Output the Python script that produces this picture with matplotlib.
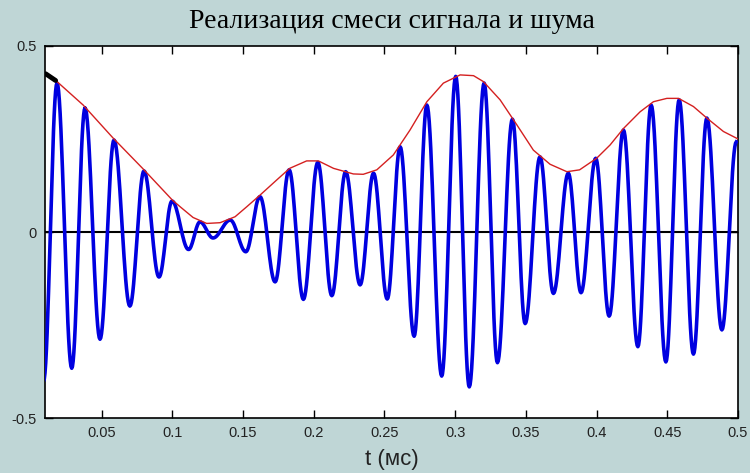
import numpy as np
import matplotlib.pyplot as plt

# ----------------------------
# extrema of the blue signal (t in ms, value)

peak_t = [0.0185, 0.0383, 0.0588, 0.0800, 0.0998, 0.1196, 0.1410, 0.1620,
          0.1826, 0.2029, 0.2226, 0.2423, 0.2611, 0.2800, 0.3004, 0.3205,
          0.3405, 0.3600, 0.3800, 0.3994, 0.4190, 0.4386, 0.4584, 0.4780,
          0.4988]
peak_v = [0.400, 0.333, 0.247, 0.164, 0.083, 0.027, 0.032, 0.095,
          0.167, 0.187, 0.162, 0.158, 0.229, 0.341, 0.418, 0.400,
          0.303, 0.202, 0.158, 0.198, 0.274, 0.341, 0.355, 0.306,
          0.242]

trough_t = [0.0090, 0.0289, 0.0489, 0.0700, 0.0906, 0.1115, 0.1288, 0.1520,
            0.1727, 0.1927, 0.2128, 0.2328, 0.2520, 0.2710, 0.2905, 0.3100,
            0.3299, 0.3495, 0.3695, 0.3890, 0.4089, 0.4292, 0.4490, 0.4685,
            0.4886]
trough_v = [-0.400, -0.366, -0.288, -0.199, -0.121, -0.047, -0.016, -0.053,
            -0.134, -0.181, -0.171, -0.142, -0.180, -0.280, -0.387, -0.416,
            -0.351, -0.246, -0.165, -0.163, -0.226, -0.308, -0.349, -0.328,
            -0.263]

# red envelope
env_t = [0.0120, 0.0185, 0.0370, 0.0580, 0.0795, 0.1000, 0.1055, 0.1147,
         0.1243, 0.1338, 0.1444, 0.1527, 0.1620, 0.1739, 0.1830, 0.1950,
         0.2033, 0.2140, 0.2280, 0.2350, 0.2446, 0.2563, 0.2681, 0.2800,
         0.2917, 0.3035, 0.3130, 0.3200, 0.3318, 0.3436, 0.3553, 0.3671,
         0.3790, 0.3880, 0.4000, 0.4096, 0.4190, 0.4308, 0.4402, 0.4497,
         0.4580, 0.4685, 0.4780, 0.4897, 0.5000]
env_v = [0.425, 0.404, 0.341, 0.253, 0.169, 0.086, 0.068, 0.039,
         0.023, 0.025, 0.041, 0.068, 0.099, 0.140, 0.171, 0.191,
         0.191, 0.171, 0.156, 0.155, 0.167, 0.207, 0.274, 0.350,
         0.400, 0.422, 0.420, 0.404, 0.355, 0.288, 0.220, 0.182,
         0.162, 0.167, 0.198, 0.234, 0.278, 0.323, 0.350, 0.359,
         0.359, 0.337, 0.306, 0.270, 0.250]

x_ticks = [0.05, 0.1, 0.15, 0.2, 0.25, 0.3, 0.35, 0.4, 0.45, 0.5]
x_labels = ["0.05", "0.1", "0.15", "0.2", "0.25", "0.3", "0.35", "0.4", "0.45", "0.5"]
y_ticks = [-0.5, 0, 0.5]
y_labels = ["-0.5", "0", "0.5"]

# ----------------------------

BG = "#bfd6d6"

# merge extrema in time order, join them with half-cosine arcs
ext = sorted(zip(peak_t + trough_t, peak_v + trough_v))
sig_t, sig_v = [], []
s = np.linspace(0, 1, 20)
for (t0, v0), (t1, v1) in zip(ext[:-1], ext[1:]):
    sig_t.extend(t0 + (t1 - t0) * s)
    sig_v.extend(v0 + (v1 - v0) * (1 - np.cos(np.pi * s)) / 2)

fig = plt.figure(figsize=(7.5, 4.73), dpi=100, facecolor=BG)
ax = fig.add_axes([0.06, 0.116, 0.924, 0.787])

ax.axhline(0, color="black", lw=1.5, zorder=2)
ax.plot(sig_t, sig_v, color="#0000e0", lw=2.6, zorder=3)
ax.plot(env_t, env_v, color="#d42020", lw=1.0, zorder=4)
ax.plot([0.0105, 0.0175], [0.425, 0.407], color="black", lw=3.5,
        solid_capstyle="round", zorder=5)

ax.set_xlim(0.01, 0.5)
ax.set_ylim(-0.5, 0.5)
ax.set_xticks(x_ticks, x_labels)
ax.set_yticks(y_ticks, y_labels)
ax.tick_params(direction="in", length=6, width=1, top=True, right=True,
               labelsize=10.5, labelcolor="#222222", pad=6)
for tl in ax.get_xticklabels() + ax.get_yticklabels():
    tl.set_family("Liberation Sans")
for sp in ax.spines.values():
    sp.set_linewidth(1.2)

ax.set_title("Реализация смеси сигнала и шума", family="Liberation Serif",
             fontsize=20, pad=13)
ax.set_xlabel("t (мс)", family="Liberation Sans", fontsize=16,
              color="#222222", labelpad=6)

plt.savefig("out.png", dpi=100, facecolor=BG)
